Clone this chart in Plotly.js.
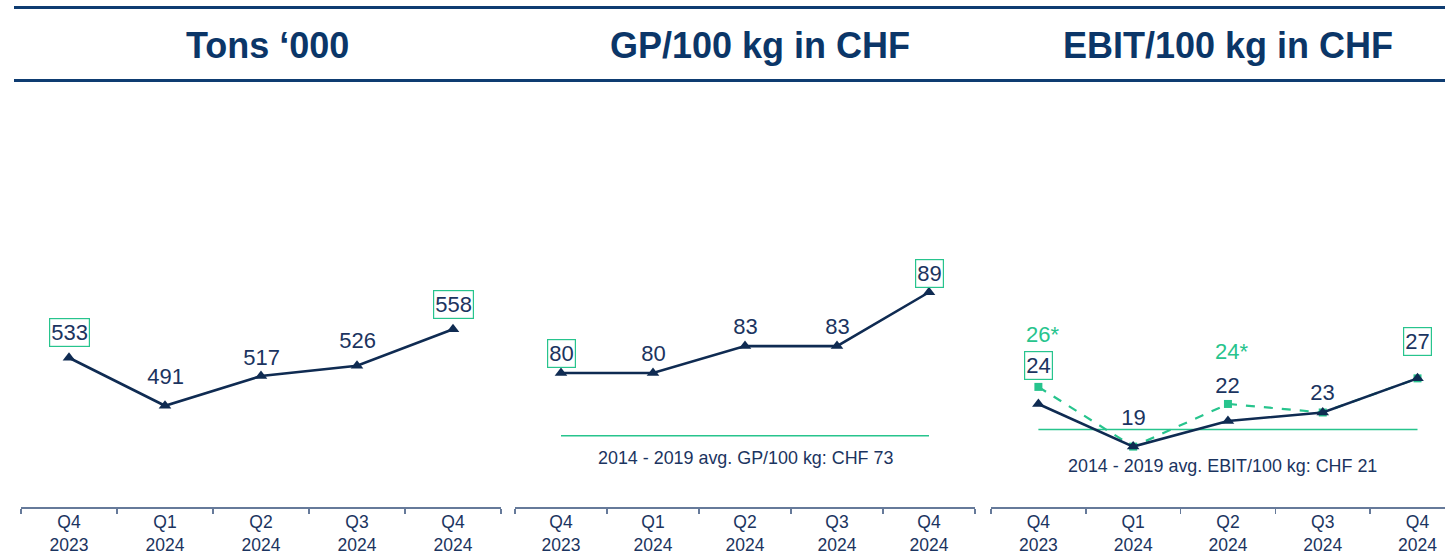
<!DOCTYPE html>
<html>
<head>
<meta charset="utf-8">
<script src="https://cdn.plot.ly/plotly-3.0.1.min.js"></script>
<style>
html,body{margin:0;padding:0;overflow:hidden;background:#fff;}
#chart{width:1445px;height:554px;}
</style>
</head>
<body>
<div id="chart"></div>
<script>
// ---- data ----
const quarters = ['Q4<br>2023', 'Q1<br>2024', 'Q2<br>2024', 'Q3<br>2024', 'Q4<br>2024'];
const panelTitles = ['Tons \u2018000', 'GP/100 kg in CHF', 'EBIT/100 kg in CHF'];
const tons = [533, 491, 517, 526, 558];
const gpPer100 = [80, 80, 83, 83, 89];
const ebitPer100 = [24, 19, 22, 23, 27];
const ebitAdjusted = [26, 19, 24, 23, 27];
const gpAvg = 73;
const ebitAvg = 21;
const gpAvgLabel = '2014 - 2019 avg. GP/100 kg: CHF 73';
const ebitAvgLabel = '2014 - 2019 avg. EBIT/100 kg: CHF 21';

// ---- styles / layout helpers ----
const NAVY = '#0f2b52';
const TXT = '#1b3460';
const TITLE = '#0b3668';
const GREEN = '#27c48d';
const AXIS = '#667a9a';
const FONT = 'Liberation Sans, Arial, sans-serif';
const W = 1445, H = 554;
const boxed = [true, false, false, false, true];
const shiftTons = [25, 29, 19, 25, 25];
const shiftGp = [19, 19, 20, 20, 19];
const shiftEbit = [38, 29, 36, 20, 37];
const shiftAdj = 52;

const px = v => v / W;
const yBottom = (H - 507) / H, yTop = (H - 95) / H;

const traces = [];
function lineTrace(xa, ya, y, color, dash, symbol, size, width) {
  return {
    x: quarters, y: y, xaxis: xa, yaxis: ya, type: 'scatter', mode: 'lines+markers',
    line: {color: color, width: width, dash: dash},
    marker: {symbol: symbol, size: size, color: color},
    hoverinfo: 'skip', showlegend: false, cliponaxis: false
  };
}
traces.push(lineTrace('x', 'y', tons, NAVY, 'solid', 'triangle-up', 11, 2.6));
traces.push(lineTrace('x2', 'y2', gpPer100, NAVY, 'solid', 'triangle-up', 11, 2.6));
traces.push({x: [quarters[0], quarters[4]], y: [gpAvg, gpAvg], xaxis: 'x2', yaxis: 'y2', type: 'scatter', mode: 'lines',
  line: {color: GREEN, width: 1.6}, hoverinfo: 'skip', showlegend: false});
traces.push({x: [quarters[0], quarters[4]], y: [ebitAvg, ebitAvg], xaxis: 'x3', yaxis: 'y3', type: 'scatter', mode: 'lines',
  line: {color: GREEN, width: 1.6}, hoverinfo: 'skip', showlegend: false});
traces.push(lineTrace('x3', 'y3', ebitAdjusted, GREEN, 'dash', 'square', 8, 2.2));
traces.push(lineTrace('x3', 'y3', ebitPer100, NAVY, 'solid', 'triangle-up', 11, 2.6));

const annotations = [];
function valueLabels(xref, yref, vals, shifts) {
  vals.forEach((v, i) => {
    annotations.push({
      xref: xref, yref: yref, x: i, y: v, text: String(v), showarrow: false,
      yshift: shifts[i], yanchor: 'middle', font: {family: FONT, size: 22, color: TXT},
      bordercolor: boxed[i] ? GREEN : 'rgba(0,0,0,0)', borderwidth: 1.2, borderpad: 1
    });
  });
}
valueLabels('x', 'y', tons, shiftTons);
valueLabels('x2', 'y2', gpPer100, shiftGp);
valueLabels('x3', 'y3', ebitPer100, shiftEbit);
ebitAdjusted.forEach((v, i) => {
  if (v !== ebitPer100[i]) {
    annotations.push({xref: 'x3', yref: 'y3', x: i, y: v, text: v + '*', showarrow: false,
      yshift: shiftAdj, xshift: 4, yanchor: 'middle', font: {family: FONT, size: 22, color: GREEN}});
  }
});
annotations.push({xref: 'x2', yref: 'y2', x: 2, y: gpAvg, text: gpAvgLabel, showarrow: false, yshift: -22,
  yanchor: 'middle', font: {family: FONT, size: 17.9, color: TXT}});
annotations.push({xref: 'x3', yref: 'y3', x: 2, y: ebitAvg, text: ebitAvgLabel, showarrow: false, yshift: -36, xshift: -5,
  yanchor: 'middle', font: {family: FONT, size: 17.9, color: TXT}});

const titleX = [267, 760, 1228];
panelTitles.forEach((t, i) => {
  annotations.push({xref: 'paper', yref: 'paper', x: px(titleX[i]), y: 1 - 45 / H, text: '<b>' + t + '</b>',
    showarrow: false, xanchor: 'center', yanchor: 'middle', font: {family: FONT, size: 36, color: TITLE}});
});

const shapes = [
  {type: 'line', xref: 'paper', yref: 'paper', x0: px(14), x1: 1, y0: 1 - 7.5 / H, y1: 1 - 7.5 / H, line: {color: '#0e3c71', width: 3}},
  {type: 'line', xref: 'paper', yref: 'paper', x0: px(14), x1: 1, y0: 1 - 80.5 / H, y1: 1 - 80.5 / H, line: {color: '#0e3c71', width: 3}}
];

function xaxis(d0, d1, r1) {
  return {domain: [px(d0), px(d1)], range: [-0.5, r1], type: 'category',
    categoryorder: 'array', categoryarray: quarters, tickson: 'boundaries',
    showline: true, linecolor: AXIS, linewidth: 2, ticks: 'outside', ticklen: 5, tickwidth: 1.5, tickcolor: AXIS,
    ticklabelstandoff: -2,
    showgrid: false, zeroline: false, fixedrange: true,
    tickfont: {family: FONT, size: 17.5, color: TXT}};
}
function yaxis(anchor, r0, r1) {
  return {domain: [yBottom, yTop], range: [r0, r1], visible: false, anchor: anchor, fixedrange: true};
}

const layout = {
  width: W, height: H, margin: {l: 0, r: 0, t: 0, b: 0},
  paper_bgcolor: '#fff', plot_bgcolor: '#fff', showlegend: false,
  xaxis: Object.assign(xaxis(21, 501, 4.5), {anchor: 'y'}),
  xaxis2: Object.assign(xaxis(515, 975, 4.5), {anchor: 'y2'}),
  xaxis3: Object.assign(xaxis(991, 1445, 4.29), {anchor: 'y3'}),
  yaxis: yaxis('x', 402.4, 762.9),
  yaxis2: yaxis('x2', 65.06, 110.99),
  yaxis3: yaxis('x3', 11.92, 60.22),
  annotations: annotations, shapes: shapes
};

Plotly.newPlot('chart', traces, layout, {displayModeBar: false, staticPlot: true});
</script>
</body>
</html>
